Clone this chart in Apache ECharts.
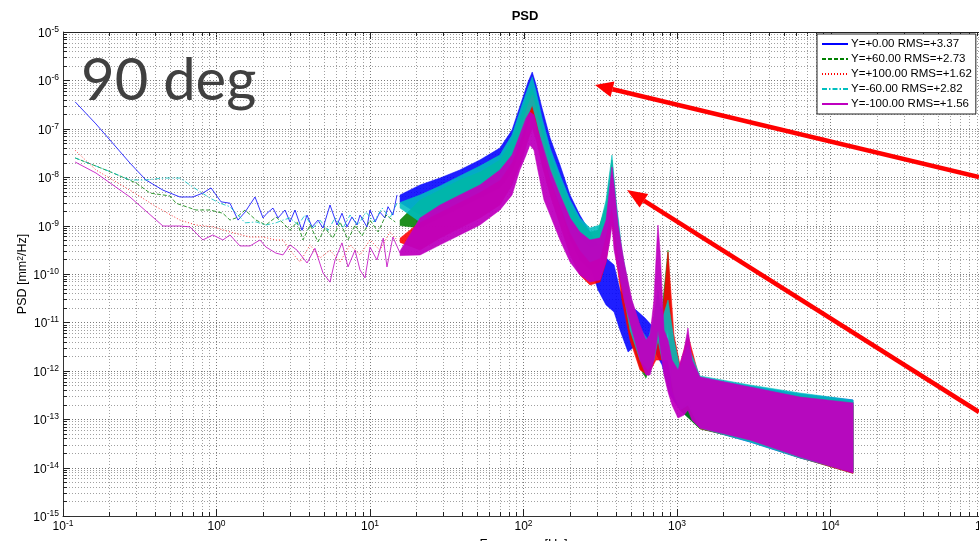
<!DOCTYPE html>
<html>
<head>
<meta charset="utf-8">
<script src="https://cdn.jsdelivr.net/npm/echarts@6/dist/echarts.min.js"></script>
<style>
html, body { margin: 0; padding: 0; background: #fff; }
#chart { width: 979px; height: 541px; }
</style>
</head>
<body>
<div id="chart"></div>
<script>
// Legend entries, one per sensor position
const seriesNames = ['Y=+0.00 RMS=+3.37', 'Y=+60.00 RMS=+2.73', 'Y=+100.00 RMS=+1.62', 'Y=-60.00 RMS=+2.82', 'Y=-100.00 RMS=+1.56'];
const seriesColors = ['#0000ff', '#008000', '#ff0000', '#00bfbf', '#bf00bf'];
const seriesDash = ['solid', [4, 2], [1, 2], [5, 2, 1.5, 2], 'solid'];

// Decade exponents of the tick labels
const xTickExps = [-1, 0, 1, 2, 3, 4, 5];
const yTickExps = [-15, -14, -13, -12, -11, -10, -9, -8, -7, -6, -5];

// Low-frequency traces: frequency [Hz] and PSD [mm^2/Hz]
const freqBlue = [0.120, 0.164, 0.202, 0.273, 0.347, 0.448, 0.578, 0.70, 0.815, 0.921, 1.07, 1.224, 1.381, 1.534, 1.782, 2.009, 2.133, 2.334, 2.516, 2.795, 3.011, 3.246, 3.606, 3.887, 4.19, 4.584, 4.94, 5.49, 6.10, 6.57, 7.08, 7.63, 8.23, 8.61, 9.56, 10.0, 10.8, 11.6, 12.5, 13.1, 14.1, 15.0];
const psdBlue = [3.6e-7, 1.26e-7, 5.9e-8, 1.96e-8, 8.75e-9, 5.4e-9, 3.9e-9, 3.9e-9, 4.7e-9, 6.0e-9, 3.1e-9, 2.9e-9, 1.3e-9, 1.9e-9, 3.9e-9, 1.44e-9, 1.8e-9, 2.3e-9, 1.44e-9, 2.1e-9, 1.19e-9, 2.1e-9, 8.0e-10, 1.65e-9, 9.4e-10, 1.3e-9, 8.9e-10, 2.66e-9, 1.03e-9, 1.8e-9, 9.4e-10, 1.5e-9, 1.03e-9, 1.65e-9, 9.4e-10, 2.1e-9, 1.19e-9, 1.9e-9, 1.44e-9, 2.46e-9, 1.65e-9, 4.3e-9];

const freqGreen = [0.120, 0.164, 0.212, 0.299, 0.369, 0.498, 0.545, 0.735, 0.907, 1.10, 1.224, 1.34, 1.534, 1.808, 2.10, 2.44, 2.71, 3.01, 3.35, 3.66, 4.07, 4.58, 5.09, 5.74, 6.38, 7.19, 7.99, 8.87, 10.0, 11.3, 12.7, 14.6];
const psdGreen = [2.5e-8, 1.7e-8, 1.22e-8, 7.6e-9, 4.7e-9, 4.1e-9, 2.9e-9, 2.1e-9, 2.1e-9, 1.8e-9, 1.3e-9, 1.44e-9, 2.1e-9, 1.3e-9, 1.03e-9, 1.5e-9, 1.14e-9, 8.0e-10, 1.19e-9, 5.05e-10, 1.03e-9, 4.6e-10, 8.9e-10, 5.5e-10, 1.19e-9, 5.05e-10, 1.03e-9, 6.1e-10, 1.3e-9, 7.4e-10, 1.65e-9, 1.19e-9];

const freqRed = [0.120, 0.164, 0.273, 0.404, 0.578, 0.735, 0.946, 1.224, 1.653, 2.009, 2.44, 2.71, 3.01, 3.50, 4.07, 4.72, 5.49, 6.38, 7.41, 8.61, 10.0, 11.6, 13.5, 15.0];
const psdRed = [3.6e-8, 1.41e-8, 5.4e-9, 2.46e-9, 1.3e-9, 1.03e-9, 9.4e-10, 7.4e-10, 5.8e-10, 5.8e-10, 5.05e-10, 5.05e-10, 3.1e-10, 1.77e-10, 4.0e-10, 2.14e-10, 3.1e-10, 1.77e-10, 4.0e-10, 2.48e-10, 5.05e-10, 3.1e-10, 7.4e-10, 5.05e-10];

const freqCyan = [0.120, 0.191, 0.273, 0.347, 0.448, 0.578, 0.70, 0.907, 1.054, 1.224, 1.422, 1.534, 1.808, 2.10, 2.44, 2.71, 3.01, 3.40, 3.77, 4.25, 4.72, 5.33, 5.92, 6.67, 7.41, 8.35, 9.42, 10.6, 12.0, 13.5, 15.0];
const psdCyan = [2.5e-8, 1.41e-8, 8.75e-9, 8.75e-9, 9.6e-9, 9.6e-9, 6.3e-9, 3.7e-9, 2.9e-9, 2.46e-9, 1.5e-9, 1.14e-9, 1.19e-9, 1.03e-9, 1.14e-9, 1.3e-9, 1.44e-9, 1.03e-9, 1.65e-9, 8.9e-10, 1.3e-9, 8.0e-10, 1.44e-9, 8.9e-10, 1.65e-9, 1.03e-9, 1.9e-9, 1.19e-9, 2.3e-9, 1.44e-9, 2.9e-9];

const freqMagenta = [0.120, 0.164, 0.273, 0.448, 0.578, 0.672, 0.815, 0.946, 1.10, 1.224, 1.422, 1.653, 1.92, 2.10, 2.44, 2.71, 3.01, 3.35, 3.89, 4.38, 4.94, 5.49, 5.92, 6.57, 7.19, 7.99, 8.61, 9.28, 10.0, 11.1, 12.2, 12.9, 14.1, 15.7];
const psdMagenta = [2.06e-8, 1.22e-8, 3.9e-9, 9.8e-10, 9.8e-10, 9.4e-10, 5.05e-10, 6.4e-10, 5.05e-10, 6.4e-10, 3.8e-10, 3.8e-10, 5.05e-10, 3.6e-10, 2.7e-10, 2.48e-10, 4.0e-10, 3.1e-10, 1.69e-10, 3.4e-10, 1.05e-10, 6.8e-11, 1.95e-10, 4.4e-10, 1.4e-10, 3.1e-10, 1.21e-10, 8.3e-11, 3.6e-10, 1.95e-10, 5.5e-10, 1.4e-10, 5.8e-10, 2.7e-10];

// Broadband part above ~15 Hz: frequency with upper and lower PSD envelope
const bandFreqBlue = [15.7, 21.2, 28.6, 38.5, 52.0, 70.2, 84.2, 97.8, 107, 114, 121, 132, 149, 173, 201, 233, 271, 306, 345, 389, 425, 480, 541, 619, 708, 799, 900, 1046, 1412, 2989, 6330, 14020];
const bandHiBlue = [4.3e-9, 6.90e-9, 9.63e-9, 1.41e-8, 2.27e-8, 4.01e-8, 9.44e-8, 3.93e-7, 9.26e-7, 1.49e-6, 8.0e-7, 2.69e-7, 6.45e-8, 1.79e-8, 4.29e-9, 1.65e-9, 7.4e-10, 4.0e-10, 2.14e-10, 1.54e-10, 4.67e-11, 2.29e-11, 1.80e-11, 1.23e-11, 7.66e-12, 4.33e-12, 2.12e-12, 1.14e-12, 7.10e-13, 4.86e-13, 3.31e-13, 2.50e-13];
const bandLoBlue = [3.0e-9, 1.65e-9, 2.31e-9, 3.38e-9, 4.95e-9, 7.59e-9, 1.41e-8, 5.87e-8, 1.52e-7, 3.10e-7, 1.67e-7, 5.87e-8, 1.28e-8, 3.38e-9, 8.92e-10, 3.13e-10, 1.54e-10, 4.67e-11, 2.29e-11, 1.64e-11, 6.96e-12, 2.45e-12, 3.41e-12, 3.94e-12, 2.69e-12, 1.32e-12, 3.16e-13, 1.55e-13, 6.58e-14, 3.38e-14, 1.58e-14, 8.11e-15];

const bandFreqGreen = [15.7, 21.2, 28.6, 38.5, 52.0, 70.2, 84.2, 97.8, 107, 114, 121, 132, 149, 173, 201, 233, 271, 306, 345, 377, 401, 438, 494, 574, 628, 687, 741, 799, 874, 928, 1046, 1412, 2989, 6330, 14020];
const bandHiGreen = [1.3e-9, 3.38e-9, 5.43e-9, 8.75e-9, 1.28e-8, 2.27e-8, 5.87e-8, 2.22e-7, 4.99e-7, 6.96e-7, 3.93e-7, 1.20e-7, 2.87e-8, 8.75e-9, 2.66e-9, 1.19e-9, 7.4e-10, 8.0e-10, 2.66e-9, 2.27e-8, 2.66e-9, 2.48e-10, 2.90e-11, 5.49e-12, 2.69e-12, 6.96e-12, 2.90e-11, 1.80e-11, 3.13e-10, 6.96e-12, 1.04e-12, 6.45e-13, 4.42e-13, 3.01e-13, 2.27e-13];
const bandLoGreen = [1.0e-9, 8.92e-10, 1.44e-9, 2.31e-9, 3.72e-9, 5.98e-9, 1.28e-8, 4.63e-8, 1.20e-7, 1.93e-7, 9.44e-8, 3.64e-8, 7.96e-9, 2.31e-9, 5.05e-10, 1.95e-10, 1.21e-10, 1.54e-10, 5.05e-10, 2.10e-9, 4.0e-10, 4.67e-11, 5.49e-12, 1.14e-12, 7.10e-13, 1.67e-12, 4.33e-12, 2.69e-12, 1.12e-11, 4.01e-13, 1.55e-13, 6.3e-14, 3.6e-14, 1.6e-14, 7.6e-15];

const bandFreqRed = [15.7, 21.2, 28.6, 38.5, 52.0, 70.2, 84.2, 97.8, 107, 114, 121, 132, 149, 173, 201, 233, 271, 315, 345, 377, 401, 438, 494, 574, 647, 730, 799, 874, 956, 1046, 1179, 1412, 2989, 6330, 14020];
const bandHiRed = [5.5e-10, 1.19e-9, 2.10e-9, 3.38e-9, 5.43e-9, 9.63e-9, 2.50e-8, 1.20e-7, 3.10e-7, 4.99e-7, 2.45e-7, 7.45e-8, 1.79e-8, 4.95e-9, 1.44e-9, 5.54e-10, 3.44e-10, 4.0e-10, 1.03e-9, 1.79e-8, 1.65e-9, 1.77e-10, 2.29e-11, 5.49e-12, 3.41e-12, 1.12e-11, 1.12e-11, 2.85e-10, 5.49e-12, 1.32e-12, 5.49e-12, 6.45e-13, 4.42e-13, 2.74e-13, 1.96e-13];
const bandLoRed = [4.5e-10, 3.13e-10, 5.54e-10, 8.92e-10, 1.44e-9, 2.66e-9, 6.90e-9, 2.27e-8, 5.87e-8, 1.04e-7, 5.87e-8, 1.79e-8, 4.29e-9, 1.03e-9, 2.48e-10, 9.54e-11, 5.93e-11, 6.83e-11, 1.77e-10, 1.19e-9, 2.14e-10, 2.90e-11, 4.33e-12, 1.04e-12, 8.19e-13, 1.67e-12, 1.67e-12, 6.96e-12, 3.65e-13, 1.55e-13, 2.50e-13, 6.4e-14, 3.6e-14, 1.6e-14, 7.6e-15];

const bandFreqCyan = [15.7, 21.2, 28.6, 38.5, 52.0, 70.2, 84.2, 97.8, 107, 114, 121, 132, 149, 173, 201, 233, 271, 315, 345, 377, 401, 438, 494, 574, 647, 708, 752, 799, 874, 956, 1046, 1179, 1412, 2989, 6330, 14020];
const bandHiCyan = [3.0e-9, 4.29e-9, 6.58e-9, 1.06e-8, 1.70e-8, 2.87e-8, 7.45e-8, 3.10e-7, 6.96e-7, 1.18e-6, 5.76e-7, 1.67e-7, 4.01e-8, 1.11e-8, 3.38e-9, 1.44e-9, 8.92e-10, 1.03e-9, 3.38e-9, 2.87e-8, 3.38e-9, 3.13e-10, 3.68e-11, 7.66e-12, 4.33e-12, 1.23e-11, 4.67e-11, 1.12e-11, 2.90e-11, 4.33e-12, 1.14e-12, 3.41e-12, 7.81e-13, 5.09e-13, 3.48e-13, 2.50e-13];
const bandLoCyan = [2.3e-9, 1.19e-9, 1.91e-9, 3.07e-9, 4.95e-9, 8.75e-9, 2.06e-8, 7.45e-8, 1.93e-7, 3.10e-7, 1.52e-7, 4.63e-8, 9.63e-9, 2.66e-9, 7.4e-10, 3.13e-10, 1.77e-10, 2.14e-10, 6.4e-10, 2.66e-9, 5.05e-10, 5.93e-11, 6.96e-12, 1.67e-12, 1.04e-12, 1.67e-12, 4.33e-12, 1.67e-12, 1.67e-12, 3.16e-13, 1.55e-13, 1.96e-13, 6.58e-14, 3.38e-14, 1.58e-14, 8.11e-15];

const bandFreqMagenta = [15.7, 21.2, 28.6, 38.5, 52.0, 70.2, 84.2, 94.6, 104, 110, 117, 124, 136, 149, 173, 201, 233, 271, 315, 345, 366, 377, 389, 413, 452, 509, 574, 628, 667, 708, 741, 752, 775, 823, 874, 928, 1015, 1111, 1179, 1252, 1412, 2989, 6330, 14020];
const bandHiMagenta = [3.0e-10, 1.44e-9, 2.66e-9, 4.29e-9, 6.90e-9, 1.41e-8, 2.87e-8, 7.45e-8, 1.67e-7, 2.22e-7, 1.93e-7, 9.44e-8, 3.64e-8, 1.41e-8, 4.29e-9, 1.44e-9, 7.4e-10, 5.05e-10, 5.54e-10, 1.30e-9, 6.90e-9, 1.62e-8, 6.90e-9, 1.03e-9, 1.77e-10, 2.90e-11, 8.83e-12, 4.33e-12, 5.49e-12, 2.90e-11, 5.05e-10, 1.03e-9, 3.13e-10, 6.96e-12, 4.33e-12, 1.67e-12, 1.04e-12, 2.69e-12, 7.66e-12, 1.67e-12, 7.45e-13, 4.63e-13, 2.87e-13, 2.17e-13];
const bandLoMagenta = [2.4e-10, 2.48e-10, 4.0e-10, 6.4e-10, 1.03e-9, 2.10e-9, 4.29e-9, 1.41e-8, 2.87e-8, 4.63e-8, 3.64e-8, 1.41e-8, 3.38e-9, 1.65e-9, 5.05e-10, 1.77e-10, 9.54e-11, 6.83e-11, 7.52e-11, 1.77e-10, 5.05e-10, 1.03e-9, 3.13e-10, 1.21e-10, 2.90e-11, 6.96e-12, 1.67e-12, 8.19e-13, 8.19e-13, 1.67e-12, 4.33e-12, 6.96e-12, 3.41e-12, 8.19e-13, 3.65e-13, 1.96e-13, 1.06e-13, 1.22e-13, 1.55e-13, 9.63e-14, 6.58e-14, 3.72e-14, 1.65e-14, 7.73e-15];

const traces = [
  [freqBlue, psdBlue], [freqGreen, psdGreen], [freqRed, psdRed], [freqCyan, psdCyan], [freqMagenta, psdMagenta]
];
const bands = [
  [bandFreqBlue, bandHiBlue, bandLoBlue], [bandFreqGreen, bandHiGreen, bandLoGreen],
  [bandFreqRed, bandHiRed, bandLoRed], [bandFreqCyan, bandHiCyan, bandLoCyan],
  [bandFreqMagenta, bandHiMagenta, bandLoMagenta]
];

const FONT = '"Liberation Sans", Arial, Helvetica, sans-serif';
const MINOR = [2, 3, 4, 5, 6, 7, 8, 9];

// rich styles for "10^n" labels (option level uses color, graphic level uses fill)
const powRichOpt = {
  base: { fontSize: 12, fontFamily: FONT, color: '#000', lineHeight: 14, padding: [6, 0, 0, 0], verticalAlign: 'bottom' },
  sup: { fontSize: 8.5, fontFamily: FONT, color: '#000', lineHeight: 9, verticalAlign: 'top' }
};
const powRichEl = {
  base: { fontSize: 12, fontFamily: FONT, fill: '#000', lineHeight: 14, padding: [6, 0, 0, 0], verticalAlign: 'bottom' },
  sup: { fontSize: 8.5, fontFamily: FONT, fill: '#000', lineHeight: 9, verticalAlign: 'top' }
};
const powText = e => '{base|10}{sup|' + e + '}';

// dotted log grid, box ticks and y tick labels
function renderGrid(params, api) {
  const cs = params.coordSys;
  const L = cs.x, T = cs.y, R = cs.x + cs.width, B = cs.y + cs.height;
  const minorStyle = { stroke: '#a0a0a0', lineWidth: 1, lineDash: [1, 2] };
  const majorStyle = { stroke: '#7a7a7a', lineWidth: 1, lineDash: [1, 2] };
  const tickStyle = { stroke: '#222', lineWidth: 1 };
  const kids = [];
  const seg = (x1, y1, x2, y2, style) => kids.push({ type: 'line', shape: { x1, y1, x2, y2 }, style });

  for (let i = 0; i < xTickExps.length; i++) {
    const e = xTickExps[i];
    const xm = Math.round(api.coord([Math.pow(10, e), 1e-10])[0]) + 0.5;
    seg(xm, T, xm, T + 7, tickStyle);
    if (i === xTickExps.length - 1) break;
    MINOR.forEach(m => {
      const x = Math.round(api.coord([m * Math.pow(10, e), 1e-10])[0]) + 0.5;
      seg(x, T, x, B, minorStyle);
      seg(x, B, x, B - 4, tickStyle);
      seg(x, T, x, T + 4, tickStyle);
    });
  }
  for (let i = 0; i < yTickExps.length; i++) {
    const e = yTickExps[i];
    const ym = Math.round(api.coord([1, Math.pow(10, e)])[1]) + 0.5;
    if (i > 0 && i < yTickExps.length - 1) seg(L, ym, R, ym, majorStyle);
    seg(L, ym, L + 7, ym, tickStyle);
    kids.push({
      type: 'text', x: L - 4, y: ym,
      style: { text: powText(e), align: 'right', verticalAlign: 'middle', rich: powRichEl, fontFamily: FONT, fontSize: 12, fill: '#000' }
    });
    if (i === yTickExps.length - 1) break;
    MINOR.forEach(m => {
      const y = Math.round(api.coord([1, m * Math.pow(10, e)])[1]) + 0.5;
      seg(L, y, R, y, minorStyle);
      seg(L, y, L + 4, y, tickStyle);
    });
  }
  seg(L, T + 0.5, R, T + 0.5, { stroke: '#222', lineWidth: 1 });
  return { type: 'group', children: kids };
}

// filled envelope between the upper and lower PSD of one series
function bandRenderer(idx) {
  const [f, hi, lo] = bands[idx];
  return function (params, api) {
    const pts = [];
    for (let i = 0; i < f.length; i++) pts.push(api.coord([f[i], hi[i]]));
    for (let i = f.length - 1; i >= 0; i--) pts.push(api.coord([f[i], lo[i]]));
    return {
      type: 'polygon',
      shape: { points: pts },
      style: { fill: seriesColors[idx], stroke: seriesColors[idx], lineWidth: 0.6, opacity: idx === 4 ? 0.95 : 0.88 }
    };
  };
}

const series = [{
  type: 'custom', name: 'grid', coordinateSystem: 'cartesian2d', silent: true, z: 1,
  renderItem: renderGrid, data: [[1, 1e-10]]
}];
bands.forEach((b, i) => {
  series.push({
    type: 'custom', name: 'band' + i, coordinateSystem: 'cartesian2d', silent: true, z: 2,
    renderItem: bandRenderer(i), data: [[b[0][0], b[1][0]]]
  });
});
traces.forEach((t, i) => {
  series.push({
    type: 'line', name: seriesNames[i], z: 3, symbol: 'none', showSymbol: false, silent: true,
    color: seriesColors[i],
    lineStyle: { color: seriesColors[i], width: 0.8, type: seriesDash[i] },
    data: t[0].map((f, k) => [f, t[1][k]])
  });
});

const chart = echarts.init(document.getElementById('chart'));
chart.setOption({
  animation: false,
  backgroundColor: '#fff',
  textStyle: { fontFamily: FONT },
  title: {
    text: 'PSD', left: 525, top: 10, textAlign: 'center', padding: 0,
    textStyle: { fontSize: 13, fontWeight: 'bold', color: '#000', fontFamily: FONT }
  },
  grid: { left: 63, right: -5, top: 32, bottom: 25, containLabel: false, outerBoundsMode: 'none' },
  legend: {
    data: seriesNames, orient: 'vertical', left: 817, top: 34,
    itemWidth: 26, itemHeight: 12, itemGap: 3,
    padding: [4, 4, 4, 4],
    backgroundColor: '#fff', borderColor: '#222', borderWidth: 1, borderRadius: 0,
    textStyle: { fontSize: 11.5, color: '#000', fontFamily: FONT, padding: [0, 0, 0, -2] },
    itemStyle: { opacity: 0 },
    lineStyle: { width: 2 },
    selectedMode: false
  },
  xAxis: {
    type: 'log', logBase: 10, min: 0.1, max: 1e5, splitNumber: 6,
    name: 'Frequency [Hz]', nameLocation: 'middle', nameGap: 22,
    nameTextStyle: { fontSize: 13, color: '#000', fontFamily: FONT },
    axisLine: { show: true, lineStyle: { color: '#333', width: 1 } },
    axisTick: { show: true, inside: true, length: 7, lineStyle: { color: '#222' } },
    splitLine: { show: true, lineStyle: { color: '#7a7a7a', type: [1, 2], width: 1 } },
    minorTick: { show: false }, minorSplitLine: { show: false },
    axisLabel: {
      margin: 3, showMinLabel: true, showMaxLabel: true,
      formatter: v => {
        const e = Math.round(Math.log10(v));
        return xTickExps.indexOf(e) >= 0 ? powText(e) : '';
      },
      rich: powRichOpt
    }
  },
  yAxis: {
    type: 'log', logBase: 10, min: 1e-15, max: 1e-5, splitNumber: 10,
    name: 'PSD [mm{sup|2}/Hz]', nameLocation: 'middle', nameGap: 34, nameRotate: 90,
    nameTextStyle: {
      fontSize: 12.5, color: '#000', fontFamily: FONT,
      rich: { sup: { fontSize: 8.5, fontFamily: FONT, color: '#000', verticalAlign: 'top', lineHeight: 9 } }
    },
    axisLine: { show: true, lineStyle: { color: '#333', width: 1 } },
    axisTick: { show: false }, axisLabel: { show: false }, splitLine: { show: false }
  },
  graphic: [
    {
      type: 'text', x: 81, y: 81, z: 50,
      style: { text: '90 deg', fontSize: 58, fontFamily: 'Lato, "Open Sans", sans-serif', fill: '#404040', align: 'left', verticalAlign: 'middle' }
    },
    { type: 'line', z: 60, shape: { x1: 979, y1: 177, x2: 612.5, y2: 89.2 }, style: { stroke: '#ff0000', lineWidth: 4.5 } },
    { type: 'polygon', z: 60, shape: { points: [[595, 85], [614.4, 81.4], [610.6, 97.0]] }, style: { fill: '#ff0000' } },
    { type: 'line', z: 60, shape: { x1: 979, y1: 412, x2: 643.9, y2: 200.7 }, style: { stroke: '#ff0000', lineWidth: 4.5 } },
    { type: 'polygon', z: 60, shape: { points: [[627, 190], [648.2, 193.9], [639.6, 207.5]] }, style: { fill: '#ff0000' } }
  ],
  series: series
});
</script>
</body>
</html>
